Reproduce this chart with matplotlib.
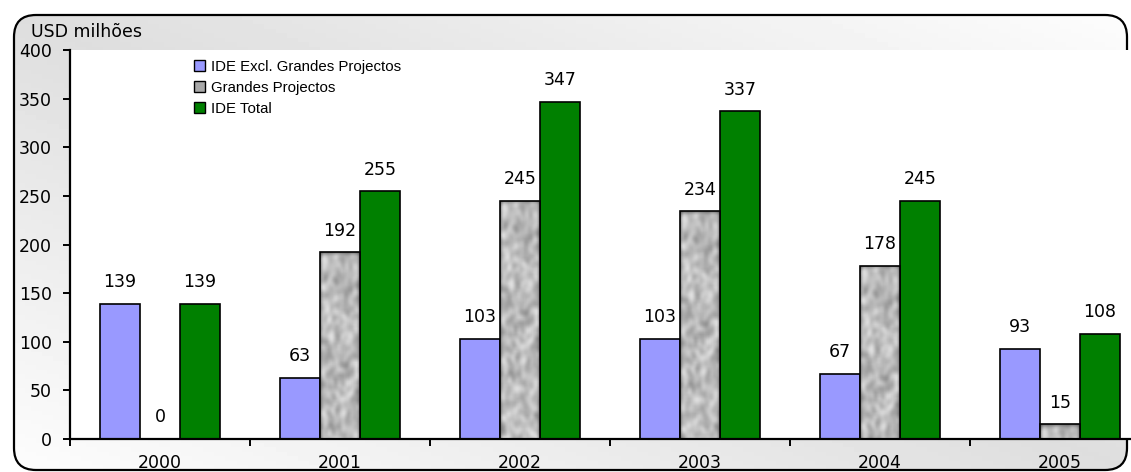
import numpy as np
import matplotlib
matplotlib.use('Agg')
import matplotlib.pyplot as plt
from matplotlib.patches import FancyBboxPatch, Patch

plt.rcParams['font.family'] = ['DejaVu Sans']

years = ['2000', '2001', '2002', '2003', '2004', '2005']
ide_excl = [139, 63, 103, 103, 67, 93]
grandes = [0, 192, 245, 234, 178, 15]
ide_total = [139, 255, 347, 337, 245, 108]
labels = ['IDE Excl. Grandes Projectos', 'Grandes Projectos', 'IDE Total']

W, H = 1131, 472
fig = plt.figure(figsize=(W / 100, H / 100), dpi=100)

# background frame with soft grey gradient
bg = fig.add_axes([0, 0, 1, 1])
bg.set_xlim(0, W)
bg.set_ylim(H, 0)
bg.axis('off')
frame = FancyBboxPatch((14, 15), 1113, 455, boxstyle='round,pad=0,rounding_size=22',
                       facecolor='none', edgecolor='black', lw=1.6, zorder=3)
bg.add_patch(frame)
gx, gy = np.meshgrid(np.linspace(0, 1, 200), np.linspace(1, 0, 100))
grad = 0.87 + 0.12 * np.abs(gx - (1 - gy))
img = bg.imshow(grad, cmap='gray', vmin=0, vmax=1, extent=(14, 1127, 470, 15),
                aspect='auto', zorder=1)
img.set_clip_path(frame)
bg.text(31, 32, 'USD milhões', fontsize=12.5, va='center', ha='left')

# main plot area (extends past right edge, as in the original)
ax = fig.add_axes([70 / W, (H - 439) / H, 1080 / W, 389 / H])
ax.set_facecolor('white')
ax.set_xlim(-0.5, 5.5)
ax.set_ylim(0, 400)

x = np.arange(len(years))
bw = 0.222
b1 = ax.bar(x - bw, ide_excl, bw, color='#9999ff', edgecolor='black', lw=1.2, zorder=2)
b2 = ax.bar(x, grandes, bw, color='none', edgecolor='black', lw=1.2, zorder=3)
b3 = ax.bar(x + bw, ide_total, bw, color='#008000', edgecolor='black', lw=1.2, zorder=2)

# mottled stone-like texture for "Grandes Projectos"
rng = np.random.default_rng(3)
noise = rng.random((130, 30))
k = np.ones(3) / 3
for _ in range(3):
    noise = np.apply_along_axis(lambda r: np.convolve(r, k, mode='same'), 1, noise)
    noise = np.apply_along_axis(lambda c: np.convolve(c, k, mode='same'), 0, noise)
noise = (noise - noise.min()) / (noise.max() - noise.min())
tex = 0.36 + 0.52 * noise
for r in b2:
    if r.get_height() <= 0:
        continue
    x0, w, h = r.get_x(), r.get_width(), r.get_height()
    rows = max(4, int(130 * h / 250))
    im = ax.imshow(tex[:rows], cmap='gray', vmin=0, vmax=1, extent=(x0, x0 + w, 0, h),
                   aspect='auto', zorder=2.5, interpolation='bilinear')
    im.set_clip_path(r)

for bars, vals in [(b1, ide_excl), (b2, grandes), (b3, ide_total)]:
    for r, v in zip(bars, vals):
        ax.annotate(str(v), (r.get_x() + r.get_width() / 2, v), xytext=(0, 9),
                    textcoords='offset points', ha='center', va='bottom', fontsize=12.5)

ax.spines['top'].set_visible(False)
ax.spines['right'].set_visible(False)
ax.spines['left'].set_linewidth(1.6)
ax.spines['bottom'].set_linewidth(1.6)
ax.set_yticks(np.arange(0, 401, 50))
ax.tick_params(axis='y', direction='out', length=5, width=1.4, pad=8, labelsize=12.5)
ax.set_xticks(x)
ax.set_xticklabels(years)
ax.set_xticks(np.arange(-0.5, 5.6, 1), minor=True)
ax.tick_params(axis='x', which='major', length=0, pad=11, labelsize=12.5)
ax.tick_params(axis='x', which='minor', direction='out', length=5, width=1.4)

handles = [Patch(facecolor='#9999ff', edgecolor='black'),
           Patch(facecolor='#a8a8a8', edgecolor='black'),
           Patch(facecolor='#008000', edgecolor='black')]
ax.legend(handles, labels, loc='upper left', bbox_to_anchor=(0.108, 0.993),
          frameon=False, prop={'family': 'Liberation Sans', 'size': 10.8},
          handlelength=0.75, handleheight=0.75,
          handletextpad=0.4, labelspacing=0.45, borderpad=0)

fig.savefig('out.png', dpi=100)
